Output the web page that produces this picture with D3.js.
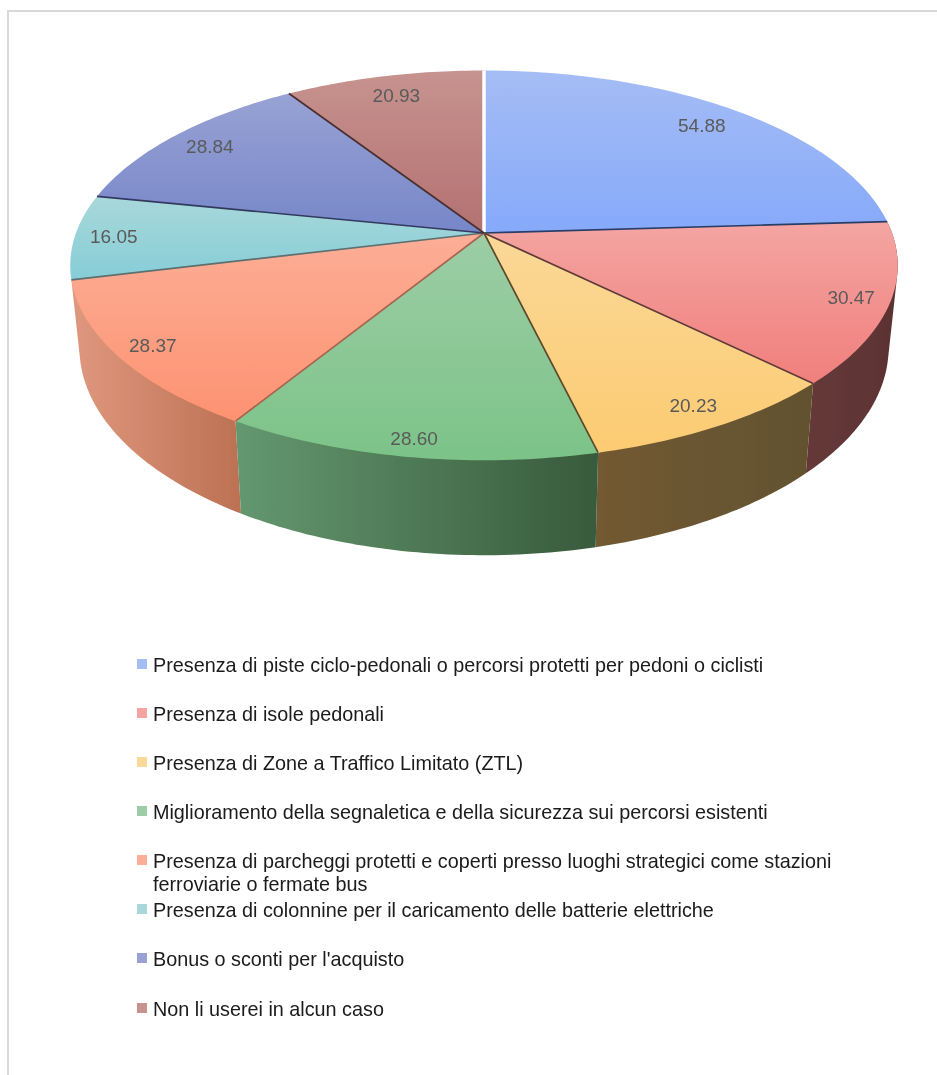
<!DOCTYPE html>
<html><head><meta charset="utf-8">
<style>html,body{margin:0;padding:0;background:#fff}svg{display:block}</style>
<script src="https://cdnjs.cloudflare.com/ajax/libs/d3/7.8.5/d3.min.js"></script>
</head><body><svg id="c" width="937" height="1075"></svg>
<script>
const categories = [
 "Presenza di piste ciclo-pedonali o percorsi protetti per pedoni o ciclisti",
 "Presenza di isole pedonali",
 "Presenza di Zone a Traffico Limitato (ZTL)",
 "Miglioramento della segnaletica e della sicurezza sui percorsi esistenti",
 "Presenza di parcheggi protetti e coperti presso luoghi strategici come stazioni\nferroviarie o fermate bus",
 "Presenza di colonnine per il caricamento delle batterie elettriche",
 "Bonus o sconti per l'acquisto",
 "Non li userei in alcun caso"];
const values = [54.88,30.47,20.23,28.60,28.37,16.05,28.84,20.93];
const faceTop = ["#a5bdf5","#f4a5a2","#fad897","#9dcda6","#fcae96","#a8d8da","#98a2d4","#c7938f"];
const faceBottom = ["#86a9fa","#f07f7c","#fccb72","#7cc388","#fd9271","#86cdd7","#7686c8","#b37171"];
const wallLeft = ["#000","#66393a","#725a32","#64986f","#df987e","#777","#000","#000"];
const wallRight = ["#000","#5c3232","#62512f","#385a3c","#bd7153","#777","#000","#000"];
const edgeColor = ["#ffffff","#2a3d66","#5e3a38","#5c4a2c","#a8634e","#5d6f70","#33395e","#4a2f30"];
const legendY = [665,714,763,812,861,910,959,1009];
const labelRho = [.86,.91,.905,.93,.915,.905,.88,.86];

const svg = d3.select("#c");
const defs = svg.append("defs");
defs.append("filter").attr("id","soft").attr("filterUnits","userSpaceOnUse")
  .attr("x",0).attr("y",0).attr("width",937).attr("height",1075)
  .append("feGaussianBlur").attr("stdDeviation",0.45);
const W=937,H=1075;
const root=svg.append("g").attr("filter","url(#soft)");
root.append("path").attr("d",`M${W},11H8V${H}`).attr("fill","none").attr("stroke","#d9d9d9").attr("stroke-width",2);

// perspective projection of the disc
const cx=484,k=0.166;
const topDisc={A:408,B:189.5,y0:233}, botDisc={A:399,B:202,y0:313};
const proj=(p,th,rho=1)=>{
  const X=rho*Math.sin(th),v=-rho*Math.cos(th),w=1-k*v;
  return [cx+p.A*X/w,p.y0+p.B*v/w];
};
const pie=d3.pie().sort(null).value(d=>d)(values);
const line=d3.line();
const arcPts=(p,a0,a1)=>{
  const n=Math.max(2,Math.ceil((a1-a0)*60));
  return d3.range(n+1).map(i=>proj(p,a0+(a1-a0)*i/n));
};

pie.forEach((s,i)=>{
  const g=defs.append("linearGradient").attr("id","f"+i).attr("x1",0).attr("x2",0).attr("y1",0).attr("y2",1);
  g.append("stop").attr("offset",0).attr("stop-color",faceTop[i]);
  g.append("stop").attr("offset",1).attr("stop-color",faceBottom[i]);
  const h=defs.append("linearGradient").attr("id","w"+i);
  h.append("stop").attr("offset",0).attr("stop-color",wallLeft[i]);
  h.append("stop").attr("offset",1).attr("stop-color",wallRight[i]);
});

// side walls, only for the slices that face the viewer
const mid=s=>(s.startAngle+s.endAngle)/2;
const walls=pie.map((s,i)=>({s,i})).filter(o=>-Math.cos(mid(o.s))>0.1);
walls.sort((a,b)=>Math.abs(mid(b.s)-Math.PI)-Math.abs(mid(a.s)-Math.PI));
root.append("g").selectAll("path").data(walls).join("path")
  .attr("d",o=>line(d3.polygonHull(arcPts(topDisc,o.s.startAngle,o.s.endAngle).concat(arcPts(botDisc,o.s.startAngle,o.s.endAngle))))+"Z")
  .attr("fill",o=>`url(#w${o.i})`);

// top faces
root.append("g").selectAll("path").data(pie).join("path")
  .attr("d",s=>line([proj(topDisc,0,0),...arcPts(topDisc,s.startAngle,s.endAngle)])+"Z")
  .attr("fill",(s,i)=>`url(#f${i})`);

// slice separators
root.append("g").selectAll("path").data(pie).join("path")
  .attr("d",s=>line([proj(topDisc,0,0),proj(topDisc,s.startAngle)]))
  .attr("fill","none")
  .attr("stroke",(s,i)=>edgeColor[i])
  .attr("stroke-width",(s,i)=>i===0?3.5:1.7);

// data labels
root.append("g").selectAll("text").data(pie).join("text")
  .attr("transform",(s,i)=>`translate(${proj(topDisc,mid(s),labelRho[i])})`)
  .attr("text-anchor","middle").attr("dy","0.36em")
  .attr("font-family","'Liberation Sans',Arial,sans-serif").attr("font-size",19)
  .attr("fill","#5a5a5a").text(s=>s.data.toFixed(2));

// legend
const lg=root.append("g").selectAll("g").data(categories).join("g")
  .attr("transform",(d,i)=>`translate(137,${legendY[i]})`);
lg.append("rect").attr("y",-6).attr("width",10).attr("height",10).attr("fill",(d,i)=>faceTop[i]);
lg.append("text").attr("font-family","'Liberation Sans',Arial,sans-serif").attr("font-size",19.8)
  .attr("fill","#1a1a1a").attr("dy","0.36em")
  .selectAll("tspan").data(d=>d.split("\n")).join("tspan")
  .attr("x",16).attr("dy",(d,j)=>j?22.5:null).text(d=>d);
</script></body></html>
